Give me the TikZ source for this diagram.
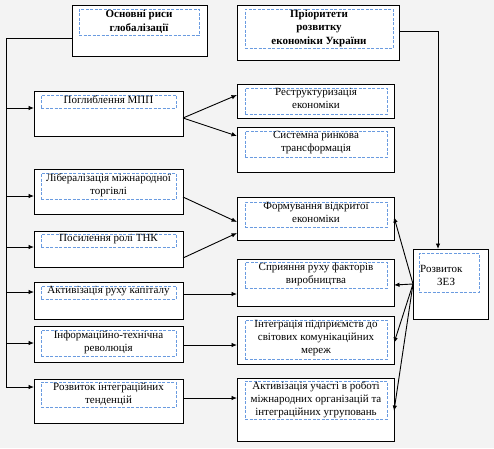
\documentclass[tikz,border=0pt]{standalone}
\usepackage{fontspec}
\setmainfont{Liberation Serif}
\usetikzlibrary{arrows.meta,calc}
\definecolor{bggray}{HTML}{F3F3F3}
\definecolor{dashblue}{HTML}{6A9BE0}
\tikzset{
  outerbox/.style={draw=black, line width=1pt, fill=white, inner sep=0pt, outer sep=0pt},
  innerbox/.style={draw=dashblue, dash pattern=on 3pt off 1.5pt, line width=0.9pt, inner sep=0pt, outer sep=0pt},
  txt/.style={font=\fontsize{11}{13}\selectfont, align=center, inner sep=0pt, anchor=north},
  btxt/.style={txt, font=\fontsize{11}{13.5}\selectfont\bfseries},
  conn/.style={line width=0.9pt},
  arr/.style={conn, -{Latex[length=5.5pt,width=4.5pt]}},
}
\newcommand\OBox[5]{\node[outerbox, minimum width={#4-#2}, minimum height={#5-#3}] (#1) at ({(#2+#4)/2},{(#3+#5)/2}) {};}
\newcommand\IBox[5]{\node[innerbox, minimum width={#4-#2}, minimum height={#5-#3}] (#1) at ({(#2+#4)/2},{(#3+#5)/2}) {};}
\begin{document}
\begin{tikzpicture}[x=1pt,y=-1pt]
\fill[bggray] (0,0) rectangle (494,448);
\useasboundingbox (0,0) rectangle (494,448);
% boxes
\OBox{A}{72}{5}{207}{56}\IBox{Ai}{79}{9}{199}{35}
\node[btxt] (At) at (139,10) {Основні риси\\глобалізації};
\OBox{P}{237}{5}{399}{60}\IBox{Pi}{245}{9}{393}{48}
\node[btxt] (Pt) at (319,9.5) {Пріоритети\\розвитку\\економіки України};
\OBox{B1}{34}{91}{183}{136}\IBox{B1i}{41}{95}{176}{108}
\node[txt] (B1t) at (108.5,95.5) {Поглиблення МПП};
\OBox{B2}{34}{169}{183}{214}\IBox{B2i}{41}{173}{176}{199}
\node[txt] (B2t) at (108.5,173.5) {Лібералізація міжнародної\\торгівлі};
\OBox{B3}{34}{231}{183}{267}\IBox{B3i}{41}{234}{176}{247}
\node[txt] (B3t) at (108.5,234.5) {Посилення ролі ТНК};
\OBox{B4}{34}{282}{183}{319}\IBox{B4i}{41}{286}{176}{299}
\node[txt] (B4t) at (108.5,286.5) {Активізація руху капіталу};
\OBox{B5}{34}{326}{183}{362}\IBox{B5i}{41}{330}{176}{356}
\node[txt] (B5t) at (108.5,330.5) {Інформаційно-технічна\\революція};
\OBox{B6}{34}{379}{183}{423}\IBox{B6i}{41}{382}{176}{407}
\node[txt] (B6t) at (108.5,382.5) {Розвиток інтеграційних\\тенденцій};
\OBox{R1}{237}{84}{394}{118}\IBox{R1i}{245}{88}{387}{114}
\node[txt] (R1t) at (316,88.5) {Реструктуризація\\економіки};
\OBox{R2}{237}{127}{394}{172}\IBox{R2i}{245}{131}{387}{157}
\node[txt] (R2t) at (316,131.5) {Системна ринкова\\трансформація};
\OBox{R3}{237}{197}{394}{240}\IBox{R3i}{245}{202}{387}{227}
\node[txt] (R3t) at (316,202.5) {Формування відкритої\\економіки};
\OBox{R4}{237}{259}{394}{306}\IBox{R4i}{245}{262}{387}{288}
\node[txt] (R4t) at (316,262.5) {Сприяння руху факторів\\виробництва};
\OBox{R5}{237}{316}{394}{364}\IBox{R5i}{245}{320}{387}{359}
\node[txt] (R5t) at (316,320.5) {Інтеграція підприємств до\\світових комунікаційних\\мереж};
\OBox{R6}{237}{378}{394}{441}\IBox{R6i}{245}{381}{387}{419}
\node[txt] (R6t) at (316,381.5) {Активізація участі в роботі\\міжнародних організацій та\\інтеграційних угруповань};
\OBox{Z}{413}{249}{488}{319}\IBox{Zi}{419}{253}{479}{292}
\node[txt, anchor=north west] (Zt1) at (420,265) {Розвиток};
\node[txt, anchor=north west] (Zt2) at (437,278) {ЗЕЗ};
% left spine
\coordinate (aout) at ([yshift=-7.5pt]A.west);
\coordinate (spTop) at (6,38);
\coordinate (b1in) at ([yshift=5.5pt]B1.west);
\coordinate (b2in) at ([yshift=-4.5pt]B2.west);
\coordinate (b3in) at ([yshift=2pt]B3.west);
\coordinate (b4in) at ([yshift=8.5pt]B4.west);
\coordinate (b5in) at ([yshift=1pt]B5.west);
\coordinate (b6in) at ([yshift=14pt]B6.west);
\draw[conn] (aout) -- (spTop) -- (spTop |- b6in);
\draw[arr] (spTop |- b1in) -- (b1in);
\draw[arr] (spTop |- b2in) -- (b2in);
\draw[arr] (spTop |- b3in) -- (b3in);
\draw[arr] (spTop |- b4in) -- (b4in);
\draw[arr] (spTop |- b5in) -- (b5in);
\draw[arr] (spTop |- b6in) -- (b6in);
% middle connectors
\draw[arr] ([yshift=-4.5pt]B1.east) -- ([yshift=6pt]R1.west);
\draw[arr] ([yshift=-4.5pt]B1.east) -- ([yshift=13.5pt]R2.west);
\draw[arr] ([yshift=-5.5pt]B2.east) -- ([yshift=-3.5pt]R3.west);
\draw[arr] ([yshift=-9pt]B3.east) -- ([yshift=-14.5pt]R3.west);
\draw[arr] ([yshift=6.5pt]B4.east) -- ([yshift=-11.5pt]R4.west);
\draw[arr] ([yshift=-1pt]B5.east) -- ([yshift=-5pt]R5.west);
\draw[arr] ([yshift=3pt]B6.east) -- ([yshift=11.5pt]R6.west);
% right side
\draw[arr] ([yshift=1.5pt]P.east) -| ([xshift=-12.5pt]Z.north);
\draw[arr] (Z.west) -- ([yshift=1.5pt]R3.east);
\draw[arr] (Z.west) -- ([yshift=-2.5pt]R4.east);
\draw[arr] (Z.west) -- ([yshift=-3pt]R5.east);
\draw[arr] (Z.west) -- ([yshift=-1.5pt]R6.east);
\end{tikzpicture}
\end{document}
